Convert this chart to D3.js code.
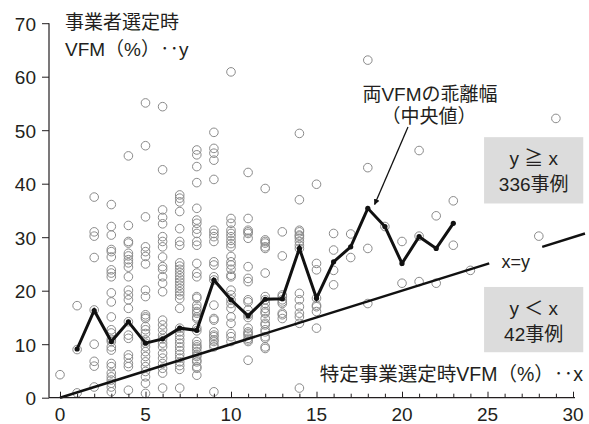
<!DOCTYPE html>
<html>
<head>
<meta charset="utf-8">
<script src="https://cdn.jsdelivr.net/npm/d3@7"></script>
<style>
  html, body { margin: 0; padding: 0; background: #fff; }
  text { font-family: "Liberation Sans", "Noto Sans CJK JP", sans-serif; fill: #231f20; }
</style>
</head>
<body>
<div id="chart"></div>
<script>
// x value of each column of cases (特定事業選定時VFM)
const colX = [0, 1, 2, 3, 4, 5, 6, 7, 8, 9, 10, 11, 12, 13, 14, 15, 16, 17, 18, 19, 20, 21, 22, 23, 24, 28, 29];
// y values in each column (事業者選定時VFM)
const colY = [
  [4.3],
  [17.2, 9.0, 0.9],
  [37.5, 31.0, 30.2, 26.2, 16.4, 10.0, 6.8, 5.9, 2.0],
  [36.1, 32.0, 30.4, 27.7, 27.3, 26.3, 23.9, 23.3, 22.6, 19.6, 17.9, 15.1, 12.7, 12.1, 10.9, 10.5, 9.5, 8.9, 6.4, 5.8, 4.6, 3.9, 3.3, 2.7, 2.0, 1.1],
  [45.2, 32.2, 29.2, 28.9, 27.0, 26.5, 25.8, 25.2, 24.4, 22.6, 20.1, 19.2, 18.3, 16.7, 14.2, 11.7, 11.1, 8.0, 7.4, 6.4, 5.8, 1.4],
  [55.1, 47.1, 33.8, 28.2, 27.3, 26.4, 25.0, 20.1, 18.9, 15.5, 15.1, 14.8, 13.3, 12.7, 12.0, 10.8, 10.2, 9.5, 8.6, 7.7, 6.7, 5.8, 4.9, 3.9, 2.7, 0.8],
  [54.4, 42.6, 35.1, 33.7, 32.5, 30.1, 29.2, 28.2, 26.3, 24.5, 24.0, 22.6, 21.4, 19.8, 14.5, 13.6, 12.7, 11.7, 11.0, 10.2, 9.5, 8.3, 7.4, 6.4, 5.5, 4.6, 1.8],
  [37.9, 37.3, 36.6, 34.8, 31.6, 29.2, 28.5, 25.2, 24.6, 24.0, 23.4, 22.8, 22.2, 21.6, 21.0, 20.4, 19.8, 19.2, 18.5, 16.7, 13.0, 12.3, 11.6, 10.9, 10.2, 9.5, 8.8, 8.1, 7.4, 6.7, 6.0, 5.3, 1.8],
  [46.3, 45.4, 43.2, 40.2, 35.4, 33.2, 32.6, 31.5, 30.7, 29.2, 28.5, 25.1, 23.3, 22.6, 18.9, 18.6, 17.3, 16.7, 16.1, 15.8, 15.1, 14.8, 13.0, 12.5, 10.5, 9.9, 9.5, 9.2, 8.6, 8.0, 7.7, 7.0, 6.7, 5.8, 5.5, 4.2],
  [49.6, 46.6, 45.7, 44.4, 40.8, 31.3, 30.7, 30.1, 29.2, 25.4, 24.8, 22.6, 22.0, 17.3, 14.8, 14.5, 12.3, 11.7, 11.4, 10.8, 10.5, 9.9, 9.5, 1.1],
  [60.9, 33.5, 32.6, 31.3, 30.7, 30.1, 29.4, 28.8, 28.2, 26.4, 25.4, 24.8, 24.0, 22.9, 22.6, 20.1, 19.2, 18.3, 17.6, 16.7, 15.1, 13.9, 12.0, 11.4, 10.5],
  [42.1, 33.5, 31.3, 31.0, 30.7, 29.8, 24.5, 22.3, 21.7, 18.3, 17.9, 16.4, 15.5, 15.0, 13.0, 12.3, 12.0, 11.7, 11.1, 10.8, 10.5, 7.0],
  [39.1, 29.5, 29.2, 28.9, 28.2, 27.9, 23.3, 18.9, 18.3, 17.6, 16.7, 16.1, 15.8, 14.8, 13.9, 13.6, 12.7, 12.3, 11.4, 11.1, 9.5, 9.2],
  [31.0, 26.5, 19.2, 18.9, 18.3, 17.9, 17.6, 15.8, 15.5, 14.8],
  [49.4, 37.0, 31.3, 31.0, 30.4, 30.2, 29.8, 29.2, 28.5, 27.9, 19.5, 18.3, 17.0, 15.8, 15.1, 13.9, 1.8],
  [39.9, 25.1, 23.9, 18.6, 17.3, 17.0, 16.1, 13.0],
  [30.7, 27.6, 23.8, 21.1],
  [30.6, 26.2],
  [63.1, 43.0, 27.9, 17.6],
  [32.0],
  [29.2, 21.4],
  [46.2, 30.2, 21.7],
  [34.0, 21.4],
  [36.8, 28.5],
  [23.8],
  [30.2],
  [52.2]
];
// median gap line (両VFMの乖離幅 中央値)
const medX = [1, 2, 3, 4, 5, 6, 7, 8, 9, 10, 11, 12, 13, 14, 15, 16, 17, 18, 19, 20, 21, 22, 23];
const medY = [9.1, 16.3, 10.5, 14.2, 10.2, 11.0, 13.0, 12.6, 22.0, 18.3, 15.3, 18.4, 18.5, 27.9, 18.6, 25.4, 28.2, 35.4, 32.0, 25.1, 30.1, 27.9, 32.6];
const xTicks = [0, 5, 10, 15, 20, 25, 30];
const yTicks = [0, 10, 20, 30, 40, 50, 60, 70];

const width = 589;
const height = 424;

const svg = d3
  .select("#chart")
  .append("svg")
  .attr("width", width)
  .attr("height", height);

const x = d3.scaleLinear().domain([0, 30]).range([60, 573]);
const y = d3.scaleLinear().domain([0, 70]).range([397.7, 23.2]);

const points = [];
colX.forEach((cx, i) => colY[i].forEach((v) => points.push({ x: cx, y: v })));

// boxes behind everything
const boxes = [
  { x0: 24.8, x1: 30.6, y0: 48.7, y1: 36.3, l1: "y ≧ x", l2: "336事例" },
  { x0: 24.8, x1: 30.6, y0: 20.7, y1: 8.5, l1: "y ＜ x", l2: "42事例" }
];
svg
  .append("g")
  .selectAll("rect")
  .data(boxes)
  .enter()
  .append("rect")
  .attr("x", (d) => x(d.x0))
  .attr("y", (d) => y(d.y0))
  .attr("width", (d) => x(d.x1) - x(d.x0))
  .attr("height", (d) => y(d.y1) - y(d.y0))
  .attr("fill", "#dcdcdc");

const boxText = svg.append("g").selectAll("g").data(boxes).enter().append("g");
boxText
  .append("text")
  .attr("x", (d) => (x(d.x0) + x(d.x1)) / 2)
  .attr("y", (d) => y(d.y0) + 28)
  .attr("text-anchor", "middle")
  .style("font-size", "19px")
  .text((d) => d.l1);
boxText
  .append("text")
  .attr("x", (d) => (x(d.x0) + x(d.x1)) / 2)
  .attr("y", (d) => y(d.y0) + 54)
  .attr("text-anchor", "middle")
  .style("font-size", "19px")
  .text((d) => d.l2);

// scatter
svg
  .append("g")
  .selectAll("circle")
  .data(points)
  .enter()
  .append("circle")
  .attr("cx", (d) => x(d.x))
  .attr("cy", (d) => y(d.y))
  .attr("r", 4.3)
  .attr("fill", "none")
  .attr("stroke", "#8a8a8a")
  .attr("stroke-width", 1);

// x=y line, with a gap for its label
const diag = [[0, 25.1], [28.2, 30.7]];
svg
  .append("g")
  .selectAll("line")
  .data(diag)
  .enter()
  .append("line")
  .attr("x1", (d) => x(d[0]))
  .attr("y1", (d) => y(d[0]))
  .attr("x2", (d) => x(d[1]))
  .attr("y2", (d) => y(d[1]))
  .attr("stroke", "#111")
  .attr("stroke-width", 2.5);
svg
  .append("text")
  .attr("x", x(26.65))
  .attr("y", y(24.3))
  .attr("text-anchor", "middle")
  .style("font-size", "18px")
  .text("x=y");

// median line
const medData = medX.map((d, i) => ({ x: d, y: medY[i] }));
svg
  .append("path")
  .datum(medData)
  .attr("fill", "none")
  .attr("stroke", "#111")
  .attr("stroke-width", 3)
  .attr("stroke-linejoin", "miter")
  .attr("d", d3.line().x((d) => x(d.x)).y((d) => y(d.y)));
svg
  .append("g")
  .selectAll("circle")
  .data(medData)
  .enter()
  .append("circle")
  .attr("cx", (d) => x(d.x))
  .attr("cy", (d) => y(d.y))
  .attr("r", 2.6)
  .attr("fill", "#111");

// arrow to the peak
svg
  .append("defs")
  .append("marker")
  .attr("id", "arrow")
  .attr("viewBox", "0 0 10 10")
  .attr("refX", 9)
  .attr("refY", 5)
  .attr("markerWidth", 6)
  .attr("markerHeight", 7)
  .attr("markerUnits", "userSpaceOnUse")
  .attr("orient", "auto")
  .append("path")
  .attr("d", "M0,0 L10,5 L0,10 Z")
  .attr("fill", "#111");
svg
  .append("line")
  .attr("x1", x(20.35))
  .attr("y1", y(50.6))
  .attr("x2", x(18.4))
  .attr("y2", y(36.1))
  .attr("stroke", "#111")
  .attr("stroke-width", 1.3)
  .attr("marker-end", "url(#arrow)");
svg
  .append("text")
  .attr("x", 430)
  .attr("y", 101)
  .attr("text-anchor", "middle")
  .style("font-size", "19px")
  .text("両VFMの乖離幅");
svg
  .append("text")
  .attr("x", 429)
  .attr("y", 123)
  .attr("text-anchor", "middle")
  .style("font-size", "19px")
  .text("（中央値）");

// axes
const yAxis = svg
  .append("g")
  .attr("transform", "translate(49,0)")
  .call(d3.axisLeft(y).tickValues(yTicks).tickSize(7).tickSizeOuter(0).tickPadding(6));
yAxis.select(".domain").remove();
yAxis.selectAll(".tick text").style("font-size", "19px").attr("dy", "0.36em");
svg
  .append("line")
  .attr("x1", 49)
  .attr("x2", 49)
  .attr("y1", y(70))
  .attr("y2", y(0))
  .attr("stroke", "#231f20")
  .attr("stroke-width", 1.2);

const xAxis = svg
  .append("g")
  .attr("transform", `translate(0,${y(0)})`)
  .call(d3.axisBottom(x).tickValues(d3.range(0, 31)).tickSize(-4).tickSizeOuter(0).tickFormat(""));
xAxis.select(".domain").remove();
xAxis.selectAll(".tick line").filter((d) => d % 5 === 0).attr("y2", -6);
svg
  .append("g")
  .selectAll("text")
  .data(xTicks)
  .enter()
  .append("text")
  .attr("x", (d) => x(d))
  .attr("y", y(0) + 23)
  .attr("text-anchor", "middle")
  .style("font-size", "19px")
  .text((d) => d);
svg
  .append("line")
  .attr("x1", 49)
  .attr("x2", 575)
  .attr("y1", y(0))
  .attr("y2", y(0))
  .attr("stroke", "#231f20")
  .attr("stroke-width", 1.2);
svg.selectAll(".tick line").attr("stroke", "#231f20");

// axis titles
svg.append("text").attr("x", 65).attr("y", 29).style("font-size", "19px").text("事業者選定時");
svg.append("text").attr("x", 65).attr("y", 56).style("font-size", "19px").text("VFM（%）‥y");
svg
  .append("text")
  .attr("x", 583)
  .attr("y", 381)
  .attr("text-anchor", "end")
  .style("font-size", "19.5px")
  .text("特定事業選定時VFM（%）‥x");
</script>
</body>
</html>
